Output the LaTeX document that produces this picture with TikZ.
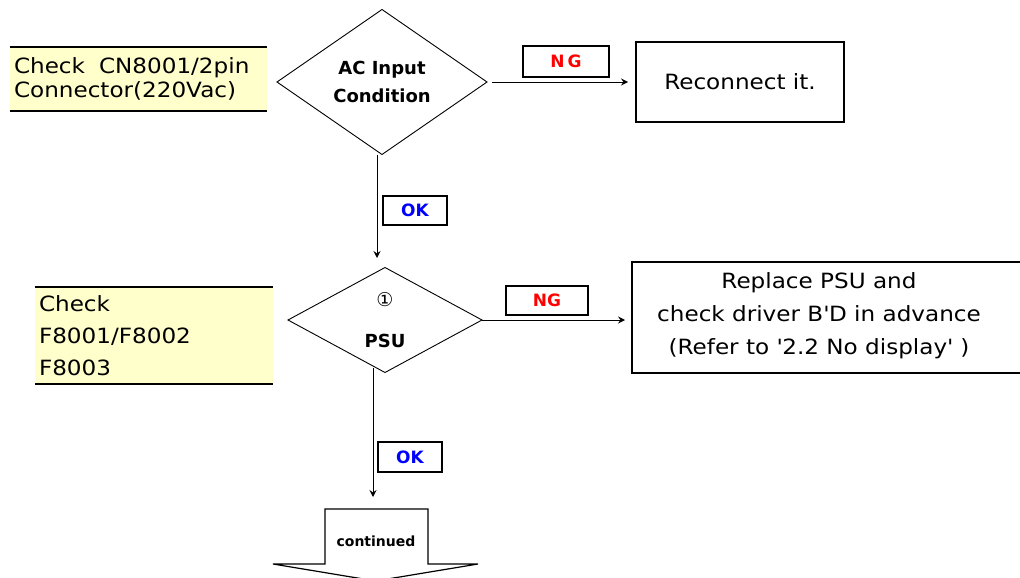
\documentclass[tikz,border=0pt]{standalone}
\usepackage{fontspec}
\setmainfont{DejaVu Sans}
\newfontfamily\bodyfont{DejaVu Sans}[FakeStretch=1.1]
\usetikzlibrary{shapes.geometric,arrows.meta}
\definecolor{notefill}{HTML}{FFFFCC}
\definecolor{ngred}{HTML}{FF0000}
\definecolor{okblue}{HTML}{0000FF}

\begin{document}
\begin{tikzpicture}[x=1pt,y=-1pt,
  every node/.style={inner sep=0pt, outer sep=0pt},
  decision/.style={diamond, draw, line width=0.9pt, align=center,
    font=\bfseries\fontsize{18}{28}\selectfont},
  actionbox/.style={draw, line width=1.2pt},
  actiontext/.style={align=center, font=\bodyfont\fontsize{21}{33}\selectfont},
  notebox/.style={fill=notefill, inner xsep=4pt, align=left},
  noterule/.style={line width=1.4pt},
  tagbox/.style={draw, line width=1.2pt, font=\bfseries\fontsize{17}{17}\selectfont},
  ngtag/.style={tagbox, text=ngred},
  oktag/.style={tagbox, text=okblue},
  flow/.style={line width=0.9pt, -{Stealth[length=7pt,width=7pt,inset=2.5pt]}},
]
\useasboundingbox (0,0) rectangle (1020,578);

% side notes
\node[notebox, text width=249pt, minimum height=64pt,
  font=\bodyfont\fontsize{21}{24}\selectfont] (note1) at (138.5,79)
  {Check\ \ CN8001/2pin\\Connector(220Vac)};
\draw[noterule] (note1.north west) -- (note1.north east)
                (note1.south west) -- (note1.south east);

\node[notebox, text width=230pt, minimum height=97pt,
  font=\bodyfont\fontsize{21}{32}\selectfont] (note2) at (154,335.5)
  {Check\\F8001/F8002\\F8003};
\draw[noterule] (note2.north west) -- (note2.north east)
                (note2.south west) -- (note2.south east);

% decisions
\node[decision, minimum width=210pt, minimum height=145pt] (d1) at (382,82)
  {AC Input\\Condition};
\node[decision, minimum width=194pt, minimum height=105pt,
  font=\bfseries\fontsize{18}{41}\selectfont] (d2) at (385,320)
  {{\normalfont\fontsize{19}{19}\selectfont ①}\\PSU};

% actions
\node[actionbox, minimum width=208pt, minimum height=80pt] (reconnect) at (740,82) {};
\node[actiontext] (reconnecttext) at (reconnect.center) {Reconnect it.};

\node[actionbox, minimum width=394pt, minimum height=111pt] (replace) at (829,317.5) {};
\node[actiontext] (replacetext) at (819,316)
  {Replace PSU and\\check driver B\textquotesingle D in advance\\(Refer to \textquotesingle 2.2 No display\textquotesingle\ )};

% branch tags
\node[ngtag, minimum width=86pt, minimum height=31pt] (ng1) at (566,61.5) {N\,G};
\node[oktag, minimum width=64pt, minimum height=29pt] (ok1) at (415,210.5) {OK};
\node[ngtag, minimum width=82pt, minimum height=29pt] (ng2) at (547,300.5) {NG};
\node[oktag, minimum width=64pt, minimum height=30pt] (ok2) at (410,457) {OK};

% continuation block arrow
\draw[line width=1.2pt, fill=white]
  (325,564) -- (325,509) -- (428,509) -- (428,564) -- (478,564)
  -- (375.5,581) -- (273,564) -- cycle;
\node[font=\bfseries\fontsize{14}{14}\selectfont] (cont) at (376,541) {continued};

% connectors
\coordinate (a1end) at (628,82);
\coordinate (a2end) at (625,320);
\coordinate (v1end) at (377,258);
\coordinate (v2end) at (373,497);
\draw[flow] ([xshift=5pt]d1.east) -- (d1.east -| a1end);
\draw[flow] (d2.east) -- (d2.east -| a2end);
\draw[flow] (v1end |- d1.south) -- (v1end);
\draw[flow] ([yshift=5pt]v2end |- d2.south) -- (v2end);
\end{tikzpicture}
\end{document}
